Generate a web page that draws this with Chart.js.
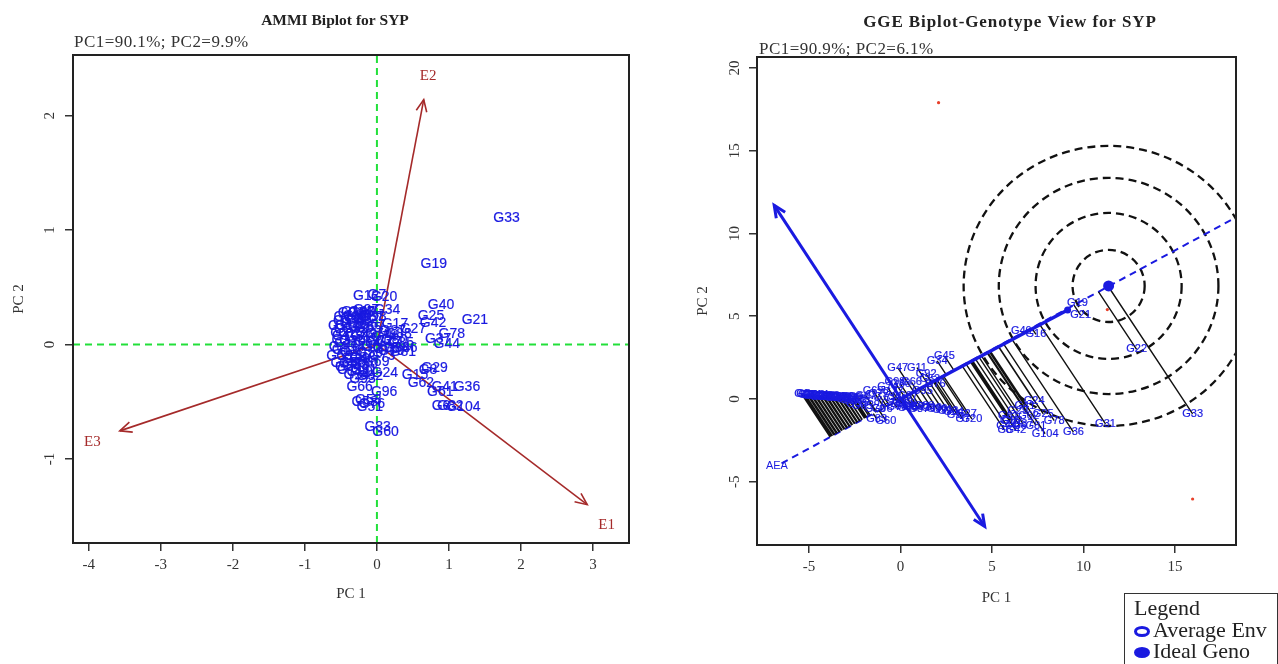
<!DOCTYPE html>
<html>
<head>
<meta charset="utf-8">
<title>AMMI and GGE biplots for SYP</title>
<script src="https://cdn.jsdelivr.net/npm/chart.js@4/dist/chart.umd.min.js"></script>
<style>
    html, body { margin: 0; padding: 0; background: #fff; }
    body { width: 1278px; height: 664px; position: relative; overflow: hidden; font-family: "Liberation Serif", serif; }
    canvas { position: absolute; top: 0; filter: blur(0.45px); }
    #ammi-chart { left: 0; }
    #gge-chart { left: 640px; }
    .legend-box { position: absolute; left: 1124px; top: 593px; width: 154px; height: 71px; border: 1px solid #333; border-bottom: none; font-size: 22px; line-height: 21.5px; color: #222; padding: 3px 0 0 9px; box-sizing: border-box; white-space: nowrap; }
    .mark { display: inline-block; box-sizing: border-box; width: 16px; height: 11px; border-radius: 50%; border: 3px solid #1a1ae0; margin-right: 3px; vertical-align: 0; }
    .mark.full { background: #1a1ae0; }
</style>
</head>
<body>
<canvas id="ammi-chart" width="640" height="620"></canvas>
<canvas id="gge-chart" width="638" height="620"></canvas>
<div class="legend-box">
    Legend<br>
    <span class="mark"></span>Average Env<br>
    <span class="mark full"></span>Ideal Geno
</div>
<script>
const ammiTitle = 'AMMI Biplot for SYP';
const ammiNote = 'PC1=90.1%; PC2=9.9%';
const ammiXTicks = [-4, -3, -2, -1, 0, 1, 2, 3];
const ammiYTicks = [-1, 0, 1, 2];
const ammiNames = [
    'G33','G19','G40','G21','G25','G42','G78','G37','G44','G81',
    'G29','G8','G62','G15','G41','G36','G61','G6','G82','G104',
    'G83','G60','G96','G12','G20','G7','G27','G17','G34','G51',
    'G58','G53','G76','G66','G92','G24','G71','G1','G2','G3',
    'G4','G5','G9','G10','G11','G13','G14','G16','G18','G22',
    'G23','G26','G28','G30','G32','G35','G38','G39','G43','G45',
    'G46','G47','G48','G49','G50','G52','G54','G55','G56','G57',
    'G59','G63','G64','G65','G67','G68','G69','G70','G72','G73',
    'G74','G75','G77','G79','G80','G84','G85','G86','G87','G88',
    'G89','G90','G91','G93','G94','G95','G97','G98','G99','G100'
];
const ammiPc1 = [
    1.80,0.79,0.89,1.36,0.75,0.78,1.04,0.85,0.97,0.36,
    0.80,0.71,0.61,0.53,0.94,1.25,0.88,0.89,1.02,1.20,
    0.01,0.12,0.10,-0.15,0.10,0.00,0.50,0.25,0.14,-0.10,
    -0.17,-0.12,-0.07,-0.24,-0.10,0.11,-0.37,-0.55,-0.52,-0.50,
    -0.54,-0.48,-0.47,-0.44,-0.45,-0.42,-0.40,-0.41,-0.38,-0.36,
    -0.35,-0.34,-0.32,-0.33,-0.30,-0.29,-0.27,-0.28,-0.25,-0.24,
    -0.22,-0.21,-0.20,-0.18,-0.17,-0.15,-0.13,-0.12,-0.10,-0.08,
    -0.52,-0.46,-0.40,-0.34,-0.06,-0.03,-0.01,0.02,0.04,0.07,
    0.10,0.13,0.16,0.20,0.24,0.28,0.33,0.38,0.22,0.30,
    -0.30,-0.24,-0.18,-0.20,-0.28,-0.22,-0.15,-0.05,-0.33,-0.26
];
const ammiPc2 = [
    1.10,0.70,0.345,0.21,0.25,0.19,0.09,0.05,0.00,-0.07,
    -0.21,-0.22,-0.34,-0.27,-0.37,-0.37,-0.42,-0.54,-0.54,-0.55,
    -0.72,-0.77,-0.42,0.42,0.41,0.43,0.13,0.18,0.30,-0.55,
    -0.50,-0.49,-0.52,-0.37,-0.28,-0.25,-0.22,0.16,0.10,0.04,
    -0.02,0.20,0.13,0.07,-0.05,0.24,0.16,0.01,-0.10,0.27,
    0.10,0.03,0.19,-0.07,0.13,0.25,0.06,-0.13,0.21,-0.02,
    0.15,0.28,-0.12,0.08,-0.17,0.22,0.02,0.14,-0.08,0.24,
    -0.10,-0.16,-0.20,-0.16,0.17,-0.02,-0.15,0.09,0.03,-0.10,
    0.06,-0.04,0.02,-0.06,0.04,-0.03,0.01,-0.03,0.12,0.09,
    -0.18,-0.24,-0.22,-0.30,-0.27,0.27,0.30,0.24,0.22,0.28
];
const envNames = ['E1', 'E2', 'E3'];
const envPc1 = [2.92, 0.65, -3.57];
const envPc2 = [-1.40, 2.14, -0.755];
const envLabelPc1 = [3.19, 0.71, -3.95];
const envLabelPc2 = [-1.58, 2.35, -0.85];

const ggeTitle = 'GGE Biplot-Genotype View for SYP';
const ggeNote = 'PC1=90.9%; PC2=6.1%';
const ggeXTicks = [-5, 0, 5, 10, 15];
const ggeYTicks = [-5, 0, 5, 10, 15, 20];
const ggeNames = [
    'G33','G22','G31','G36','G104','G78','G21','G19','G40','G16',
    'G24','G41','G29','G62','G82','G6','G61','G25','G42','G44',
    'G8','G15','G37','G81','G20','G7','G27','G17','G45','G34',
    'G47','G11','G92','G83','G60','G96','G51','G58','G53','G76',
    'G66','G71','G1','G2','G3','G4','G5','G9','G10','G12',
    'G13','G14','G18','G23','G26','G28','G30','G32','G35','G38',
    'G39','G43','G46','G48','G49','G50','G52','G54','G55','G56',
    'G57','G59','G63','G64','G65','G67','G68','G69','G70','G72',
    'G73','G74','G75','G77','G79','G80','G84','G85','G86','G87',
    'G88','G89','G90','G91','G93','G94','G95','G97','G98','G99'
];
const ggePc1 = [
    15.96,12.90,11.20,9.45,7.90,8.40,9.84,9.67,6.60,7.40,
    7.30,6.80,6.40,7.00,6.10,6.50,5.90,7.80,6.30,5.80,
    5.70,6.00,6.70,7.40,3.90,3.40,3.60,3.10,2.40,2.00,
    -0.15,0.90,1.40,-1.30,-0.80,-1.00,-0.20,0.30,1.60,1.90,
    0.60,1.10,-5.40,-5.30,-5.20,-5.10,-5.00,-4.90,-4.80,-4.70,
    -4.60,-4.50,-4.40,-4.30,-4.20,-4.10,-4.00,-3.90,-3.80,-3.70,
    -3.60,-3.50,-3.40,-3.30,-3.20,-3.10,-3.00,-2.90,-2.80,-2.70,
    -2.60,-2.50,-2.40,-2.30,-2.10,-1.90,-1.70,-1.50,-1.40,-1.20,
    -0.90,-0.70,-0.50,-0.40,-0.20,0.00,0.20,0.40,0.70,1.00,
    1.30,1.70,2.00,2.30,2.60,2.90,1.20,0.40,-0.30,0.10
];
const ggePc2 = [
    -0.90,3.00,-1.50,-2.00,-2.10,-1.30,5.07,5.80,4.10,3.90,
    -0.10,-0.40,-0.70,-1.00,-1.30,-1.60,-1.00,-0.90,-1.90,-1.60,
    -1.90,-1.30,-1.50,-1.60,-1.20,-1.20,-0.90,-0.95,2.60,2.30,
    1.90,1.90,1.50,-1.20,-1.30,-0.60,0.00,-0.30,1.20,0.90,
    1.00,-0.50,0.30,0.28,0.25,0.27,0.22,0.25,0.20,0.24,
    0.18,0.22,0.15,0.20,0.14,0.18,0.12,0.18,0.10,0.15,
    0.08,0.14,0.06,0.12,0.04,0.10,0.02,0.08,-0.05,0.05,
    -0.10,0.00,-0.30,0.10,-0.40,0.20,-0.20,0.50,-0.60,0.30,
    0.10,0.70,-0.30,0.40,-0.50,0.90,-0.45,-0.55,-0.50,-0.60,
    -0.45,-0.55,-0.60,-0.65,-0.70,-0.80,0.50,0.20,1.00,-0.20
];
const ggeEnvPc1 = [2.08, 11.30, 15.96];
const ggeEnvPc2 = [17.90, 5.40, -6.04];
const aeaPc1 = [-6.50, 18.36];
const aeaPc2 = [-3.89, 10.99];
const aeaSolidPc1 = [0, 9.13];
const aeaSolidPc2 = [0, 5.38];
const crossPc1 = [-6.90, 4.60];
const crossPc2 = [11.70, -7.70];
const idealPc1 = [11.37];
const idealPc2 = [6.83];
const ringRadiusPc1 = [1.97, 3.99, 6.00, 7.92];
const ringRadiusPc2 = [2.18, 4.41, 6.53, 8.46];

const BLUE = '#1a1ae0';
const BROWN = '#a52a2a';
const SERIF = '"Liberation Serif", serif';
const SANS = '"Liberation Sans", sans-serif';

function toPoints(xs, ys) {
    return xs.map((x, i) => ({ x: x, y: ys[i] }));
}

// one line with gaps, from each genotype down to the AEA axis
function projectionLines(xs, ys) {
    const ax = aeaPc1[1], ay = aeaPc2[1];
    const len = ax * ax + ay * ay;
    const out = [];
    xs.forEach((x, i) => {
        const t = (x * ax + ys[i] * ay) / len;
        out.push({ x: x, y: ys[i] }, { x: t * ax, y: t * ay }, { x: NaN, y: NaN });
    });
    return out;
}

function line(xs, ys, color, width, dash, order, arrow) {
    return {
        data: toPoints(xs, ys), showLine: true, pointRadius: 0, borderColor: color,
        borderWidth: width, borderDash: dash || [], order: order, arrow: arrow
    };
}

function drawHead(ctx, from, to, color, width) {
    const ang = Math.atan2(to.y - from.y, to.x - from.x);
    const size = 13;
    ctx.save();
    ctx.strokeStyle = color;
    ctx.lineWidth = width;
    ctx.beginPath();
    ctx.moveTo(to.x - size * Math.cos(ang - 0.42), to.y - size * Math.sin(ang - 0.42));
    ctx.lineTo(to.x, to.y);
    ctx.lineTo(to.x - size * Math.cos(ang + 0.42), to.y - size * Math.sin(ang + 0.42));
    ctx.stroke();
    ctx.restore();
}

// rotated y tick labels, plot frame, arrow heads, text labels
const biplotPlugin = {
    id: 'biplot',
    beforeDatasetsDraw(chart, args, opts) {
        if (!opts.rings) return;
        const { ctx, chartArea, scales } = chart;
        const cx = scales.x.getPixelForValue(idealPc1[0]);
        const cy = scales.y.getPixelForValue(idealPc2[0]);
        ctx.save();
        ctx.beginPath();
        ctx.rect(chartArea.left, chartArea.top, chartArea.width, chartArea.height);
        ctx.clip();
        ctx.strokeStyle = '#111';
        ctx.lineWidth = 2.3;
        ctx.setLineDash([8, 5]);
        ringRadiusPc1.forEach((r, i) => {
            const rx = Math.abs(scales.x.getPixelForValue(idealPc1[0] + r) - cx);
            const ry = Math.abs(scales.y.getPixelForValue(idealPc2[0] + ringRadiusPc2[i]) - cy);
            ctx.beginPath();
            ctx.ellipse(cx, cy, rx, ry, 0, 0, Math.PI * 2);
            ctx.stroke();
        });
        ctx.restore();
    },
    afterDatasetsDraw(chart, args, opts) {
        const { ctx, chartArea, scales } = chart;
        chart.data.datasets.forEach((ds, i) => {
            const pts = chart.getDatasetMeta(i).data;
            if (ds.arrow) {
                ds.arrow.forEach(pair => drawHead(ctx, pts[pair[0]], pts[pair[1]], ds.borderColor, ds.borderWidth));
            }
            if (ds.textLabels) {
                ctx.save();
                ctx.font = ds.textFont;
                ctx.fillStyle = ds.textColor;
                ctx.strokeStyle = ds.textColor;
                ctx.lineWidth = ds.textHeavy || 0;
                ctx.textAlign = 'center';
                ctx.textBaseline = 'middle';
                ds.textLabels.forEach((t, k) => {
                    ctx.fillText(t, pts[k].x, pts[k].y);
                    if (ds.textHeavy) ctx.strokeText(t, pts[k].x, pts[k].y);
                });
                ctx.restore();
            }
        });

        ctx.save();
        ctx.strokeStyle = '#222';
        ctx.lineWidth = 2;
        ctx.strokeRect(chartArea.left, chartArea.top, chartArea.width, chartArea.height);

        ctx.fillStyle = '#333';
        ctx.font = '15px ' + SERIF;
        ctx.textAlign = 'center';
        ctx.textBaseline = 'middle';
        opts.yTicks.forEach(v => {
            ctx.save();
            ctx.translate(chartArea.left - opts.yTickGap, scales.y.getPixelForValue(v));
            ctx.rotate(-Math.PI / 2);
            ctx.fillText(String(v), 0, 0);
            ctx.restore();
        });

        ctx.fillStyle = '#222';
        ctx.font = 'bold ' + opts.titleSize + 'px ' + SERIF;
        ctx.letterSpacing = opts.titleSpacing;
        ctx.fillText(opts.title, opts.titleX, opts.titleY);
        ctx.fillStyle = '#333';
        ctx.font = '17px ' + SERIF;
        ctx.letterSpacing = '0.45px';
        ctx.textAlign = 'left';
        ctx.fillText(opts.note, opts.noteX, opts.noteY);
        ctx.restore();
    }
};

function makeChart(id, datasets, cfg) {
    const setTicks = list => scale => { scale.ticks = list.map(v => ({ value: v })); };
    const grid = { drawOnChartArea: false, drawTicks: true, tickLength: 8, color: '#333', lineWidth: 1.5 };
    return new Chart(document.getElementById(id), {
        type: 'scatter',
        data: { datasets: datasets },
        plugins: [biplotPlugin],
        options: {
            responsive: false,
            animation: false,
            layout: { autoPadding: false, padding: { top: cfg.top, right: cfg.right, left: 0, bottom: 0 } },
            scales: {
                x: {
                    min: cfg.xMin, max: cfg.xMax,
                    afterBuildTicks: setTicks(cfg.xTicks),
                    afterFit: s => { s.height = 620 - cfg.bottom; },
                    grid: grid, border: { display: false },
                    ticks: { color: '#333', font: { family: SERIF, size: 15 }, padding: 5, maxRotation: 0, autoSkip: false },
                    title: { display: true, text: 'PC 1', color: '#333', font: { family: SERIF, size: 15 }, padding: { top: 0, bottom: cfg.xTitlePad } }
                },
                y: {
                    min: cfg.yMin, max: cfg.yMax,
                    afterBuildTicks: setTicks(cfg.yTicks),
                    afterFit: s => { s.width = cfg.left; },
                    grid: grid, border: { display: false },
                    ticks: { display: false },
                    title: { display: true, text: 'PC 2', color: '#333', font: { family: SERIF, size: 15 }, padding: { top: cfg.yTitlePad, bottom: 0 } }
                }
            },
            plugins: {
                legend: { display: false },
                tooltip: { enabled: false },
                biplot: cfg.text
            }
        }
    });
}

window.onload = function() {
    const GREEN = '#22e03a';
    const ammiX = [-4.22, 3.50], ammiY = [-1.735, 2.53];

    makeChart('ammi-chart', [
        line(ammiX, [0, 0], GREEN, 2, [7, 5], 5),
        line([0, 0], ammiY, GREEN, 2, [7, 5], 5),
        line([0, envPc1[0]], [0, envPc2[0]], BROWN, 1.6, [], 4, [[0, 1]]),
        line([0, envPc1[1]], [0, envPc2[1]], BROWN, 1.6, [], 4, [[0, 1]]),
        line([0, envPc1[2]], [0, envPc2[2]], BROWN, 1.6, [], 4, [[0, 1]]),
        {
            data: toPoints(ammiPc1, ammiPc2), pointRadius: 0, order: 1,
            textLabels: ammiNames, textFont: '14px ' + SANS, textColor: BLUE, textHeavy: 0.2
        },
        {
            data: toPoints(envLabelPc1, envLabelPc2), pointRadius: 0, order: 1,
            textLabels: envNames, textFont: '15px ' + SERIF, textColor: BROWN
        }
    ], {
        xMin: ammiX[0], xMax: ammiX[1], yMin: ammiY[0], yMax: ammiY[1],
        xTicks: ammiXTicks, yTicks: ammiYTicks,
        left: 73, right: 11, top: 55, bottom: 543, xTitlePad: 17, yTitlePad: 10,
        text: {
            title: ammiTitle, titleX: 335, titleY: 21, titleSize: 15.5, titleSpacing: '0px', note: ammiNote, noteX: 74, noteY: 43,
            yTicks: ammiYTicks, yTickGap: 23
        }
    });

    makeChart('gge-chart', [
        line(aeaPc1, aeaPc2, BLUE, 2, [7, 5], 5),
        {
            data: projectionLines(ggePc1, ggePc2), showLine: true, spanGaps: false, pointRadius: 0,
            borderColor: '#111', borderWidth: 1.4, order: 4
        },
        line(aeaSolidPc1, aeaSolidPc2, BLUE, 3.5, [], 3),
        line(crossPc1, crossPc2, BLUE, 3, [], 3, [[1, 0], [0, 1]]),
        {
            data: toPoints([aeaSolidPc1[1], idealPc1[0]], [aeaSolidPc2[1], idealPc2[0]]),
            pointRadius: [3.5, 5.5], pointBackgroundColor: BLUE, pointBorderWidth: 0, order: 2
        },
        { data: toPoints(ggeEnvPc1, ggeEnvPc2), pointRadius: 1.6, pointBackgroundColor: '#e8402a', pointBorderWidth: 0, order: 2 },
        {
            data: toPoints(ggePc1, ggePc2), pointRadius: 0, order: 1,
            textLabels: ggeNames, textFont: '11px ' + SANS, textColor: BLUE, textHeavy: 0.2
        },
        {
            data: [{ x: -6.75, y: -4.05 }], pointRadius: 0, order: 1,
            textLabels: ['AEA'], textFont: '11px ' + SANS, textColor: BLUE
        }
    ], {
        xMin: -7.84, xMax: 18.33, yMin: -8.82, yMax: 20.66,
        xTicks: ggeXTicks, yTicks: ggeYTicks,
        left: 117, right: 42, top: 57, bottom: 545, xTitlePad: 13, yTitlePad: 54,
        text: {
            rings: true,
            title: ggeTitle, titleX: 370, titleY: 23, titleSize: 17, titleSpacing: '0.9px', note: ggeNote, noteX: 119, noteY: 50,
            yTicks: ggeYTicks, yTickGap: 22
        }
    });
};
</script>
</body>
</html>
